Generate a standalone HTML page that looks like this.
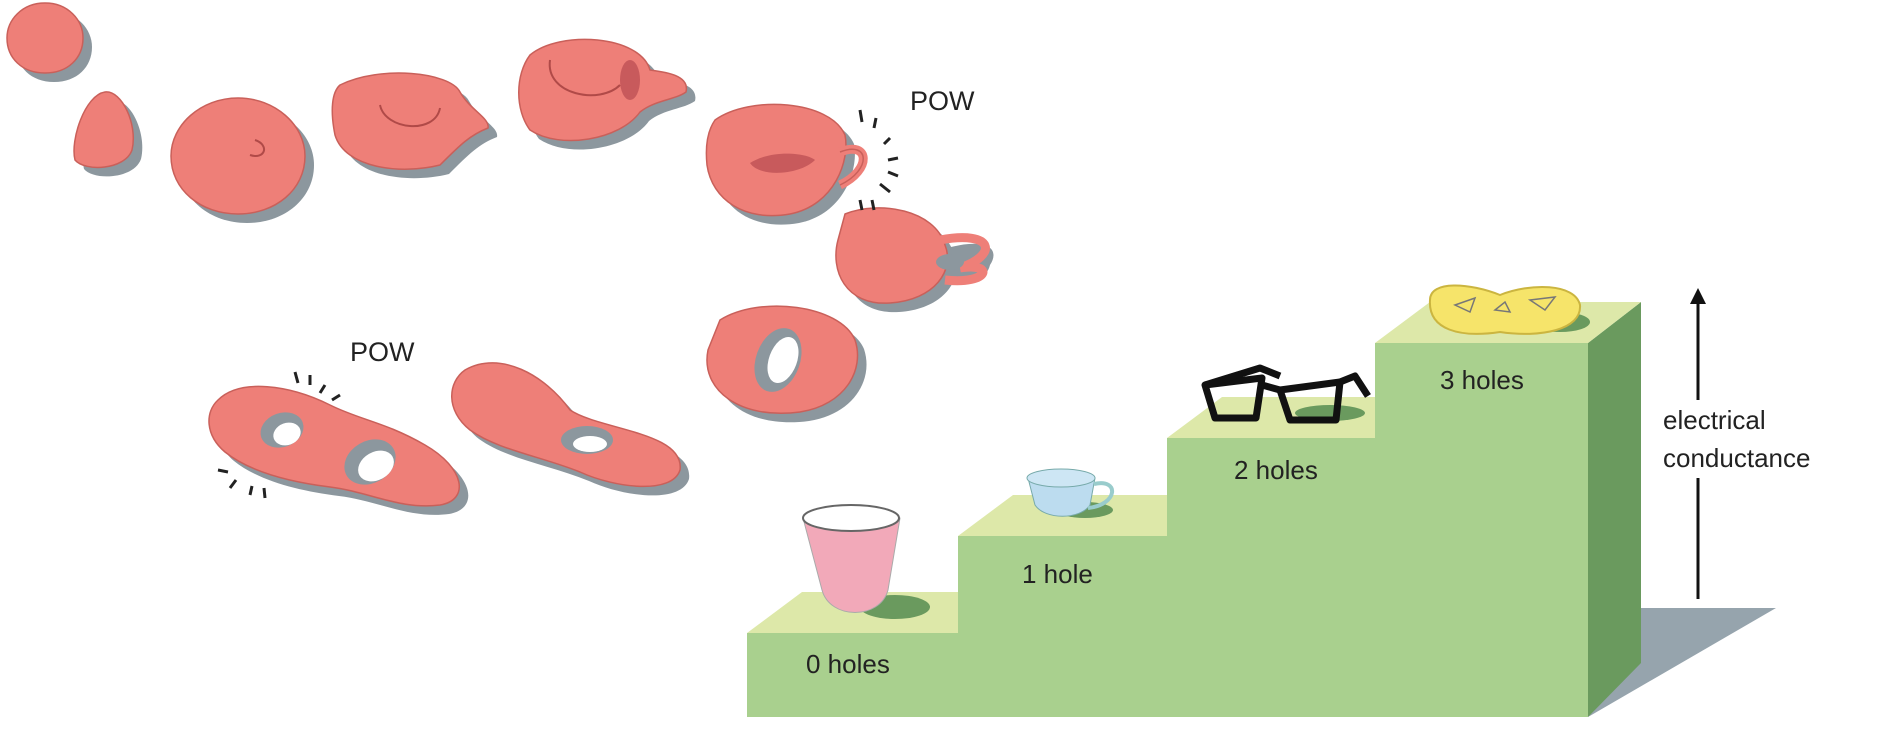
<!DOCTYPE html>
<html><head><meta charset="utf-8"><style>
html,body{margin:0;padding:0;background:#fff;}
svg{display:block}
text{font-family:"Liberation Sans",sans-serif;fill:#222;}
</style></head><body>
<svg width="1890" height="746" viewBox="0 0 1890 746" xmlns="http://www.w3.org/2000/svg">
<defs>
<path id="b1" d="M45 3 C68 3 83 20 83 38 C83 58 68 73 45 73 C22 73 7 58 7 38 C7 20 22 3 45 3Z"/>
<path id="b2" d="M105 92 C85 95 70 140 75 160 C85 172 125 170 132 150 C138 125 122 90 105 92Z"/>
<path id="b3" d="M238 98 C275 98 305 125 305 156 C305 190 275 214 238 214 C201 214 171 190 171 156 C171 125 201 98 238 98Z"/>
<path id="b4" d="M340 85 C380 65 450 72 460 92 C470 110 490 118 488 128 C470 135 460 145 440 165 C400 175 345 168 335 135 C330 110 332 92 340 85Z"/>
<path id="b5" d="M530 55 C560 30 640 35 650 70 C665 72 690 75 686 92 C675 100 655 100 640 112 C620 140 560 150 530 130 C515 110 515 75 530 55Z"/>
<path id="b6" d="M715 120 C750 95 830 100 845 135 C850 160 835 205 790 214 C745 222 712 200 707 165 C705 145 708 130 715 120Z"/>
<path id="b7" d="M845 214 C880 200 935 210 945 245 C955 270 935 300 890 303 C845 306 830 270 838 240Z"/>
<path id="b8" d="M720 320 C760 295 840 305 855 340 C865 370 845 405 800 412 C740 420 700 390 708 350 Z"/>
<path id="b9" d="M218 400 C240 378 290 385 330 405 C360 420 385 422 425 445 C465 468 470 500 440 505 C400 510 370 492 330 487 C290 482 250 472 225 452 C205 435 205 412 218 400Z"/>
<path id="b10" d="M465 370 C500 350 545 375 570 410 C600 430 685 432 680 470 C672 495 615 488 580 472 C540 456 498 450 470 430 C445 410 448 382 465 370Z"/>
</defs>
<g fill="#8c979e" transform="translate(9,9)">
<use href="#b1"/><use href="#b2"/><use href="#b3"/><use href="#b4"/><use href="#b5"/><use href="#b6"/><use href="#b7"/><use href="#b8"/><use href="#b9"/><use href="#b10"/>
</g>
<g fill="#8c979e">
<path d="M940 250 C990 235 1000 250 990 265 C985 285 960 285 945 282Z"/>
</g>
<g fill="#ee7f78" stroke="#c9605a" stroke-width="1.5">
<use href="#b1"/><use href="#b2"/><use href="#b3"/><use href="#b4"/><use href="#b5"/><use href="#b6"/><use href="#b7"/><use href="#b8"/><use href="#b9"/><use href="#b10"/>
</g>
<!-- handles -->
<path d="M840 152 C870 140 872 170 840 185" stroke="#ee7f78" stroke-width="9" fill="none"/>
<path d="M840 152 C870 140 872 170 840 185" stroke="#c9605a" stroke-width="1.5" fill="none" transform="translate(0,0)"/>
<path d="M940 240 C995 230 998 255 960 268 M945 280 C990 285 995 262 960 268" stroke="#ee7f78" stroke-width="9" fill="none"/>
<ellipse cx="950" cy="262" rx="14" ry="8" fill="#8c979e"/>
<g fill="#8c979e">
<ellipse cx="778" cy="360" rx="22" ry="33" transform="rotate(20 778 360)"/>
<ellipse cx="282" cy="430" rx="22" ry="17" transform="rotate(-20 282 430)"/>
<ellipse cx="370" cy="462" rx="27" ry="21" transform="rotate(-30 370 462)"/>
<ellipse cx="587" cy="440" rx="26" ry="14"/>
</g>
<g fill="#fff">
<ellipse cx="783" cy="360" rx="14" ry="24" transform="rotate(20 783 360)"/>
<ellipse cx="287" cy="434" rx="14" ry="11" transform="rotate(-20 287 434)"/>
<ellipse cx="376" cy="466" rx="19" ry="14" transform="rotate(-30 376 466)"/>
<ellipse cx="590" cy="444" rx="17" ry="8"/>
</g>
<g fill="#c85a5c"><ellipse cx="630" cy="80" rx="10" ry="20"/><path d="M750 163 C770 150 805 152 815 160 C800 175 760 178 750 163Z"/></g>
<g stroke="#b04a48" stroke-width="2" fill="none">
<path d="M255 140 C270 145 265 160 250 155"/>
<path d="M380 105 C385 130 435 135 440 108"/>
<path d="M550 60 C545 95 600 105 620 85"/>
</g>
<g stroke="#222" stroke-width="3">
<path d="M860 110 L862 122 M876 118 L874 128 M890 138 L884 144 M898 158 L888 160 M898 176 L888 172 M890 192 L880 184 M860 200 L862 210 M872 200 L874 210"/>
<path d="M295 372 L298 383 M310 375 L310 385 M325 385 L320 393 M340 395 L332 400 M218 470 L228 472 M230 488 L236 480 M250 495 L252 486 M265 498 L264 488"/>
</g>
<text x="910" y="110" font-size="27">POW</text>
<text x="350" y="361" font-size="27">POW</text>
<!-- stairs -->
<polygon points="1641,608 1776,608 1588,717" fill="#96a4ad"/>
<polygon points="1588,343 1641,302 1641,663 1588,717" fill="#6a9a5e"/>
<polygon points="747,633 802,592 958,592 958,633" fill="#dde8a9"/>
<polygon points="958,536 1013,495 1167,495 1167,536" fill="#dde8a9"/>
<polygon points="1167,438 1222,397 1375,397 1375,438" fill="#dde8a9"/>
<polygon points="1375,343 1430,302 1641,302 1588,343" fill="#dde8a9"/>
<polygon points="747,633 958,633 958,536 1167,536 1167,438 1375,438 1375,343 1588,343 1588,717 747,717" fill="#a9d08e"/>
<g fill="#6a9a5e"><ellipse cx="895" cy="607" rx="35" ry="12"/><ellipse cx="1085" cy="510" rx="28" ry="8"/><ellipse cx="1330" cy="413" rx="35" ry="8"/><ellipse cx="1560" cy="322" rx="30" ry="10"/></g>
<path d="M803 518 C820 505 890 505 900 518 L888 590 C880 620 830 620 822 590Z" fill="#f2a9b9" stroke="#aaa" stroke-width="1"/>
<ellipse cx="851" cy="518" rx="48" ry="13" fill="#fff" stroke="#666" stroke-width="2"/>
<path d="M1028 478 L1035 505 C1045 520 1080 520 1090 505 L1095 478Z" fill="#bcdcef" stroke="#7aa" stroke-width="1"/>
<ellipse cx="1061" cy="478" rx="34" ry="9" fill="#cde6f4" stroke="#7aa"/>
<path d="M1094 484 C1120 478 1118 505 1088 508" stroke="#9cc" stroke-width="4" fill="none"/>
<g stroke="#111" stroke-width="7" fill="none" stroke-linejoin="round">
<path d="M1205 385 L1262 378 L1256 418 L1215 418Z"/>
<path d="M1280 390 L1340 382 L1336 420 L1290 420Z"/>
<path d="M1262 385 L1280 390 M1205 385 L1260 368 L1280 376 M1340 382 L1355 376 L1368 396"/>
</g>
<path d="M1430 300 C1430 280 1470 283 1500 295 C1530 283 1575 283 1580 305 C1582 330 1540 338 1500 332 C1460 338 1428 330 1430 300Z" fill="#f6e46a" stroke="#cbb540" stroke-width="2"/>
<g stroke="#777" stroke-width="1.5" fill="none"><path d="M1455 305 L1475 298 L1470 312Z M1495 310 L1505 302 L1510 312Z M1530 300 L1555 297 L1545 310Z"/></g>
<text x="806" y="673" font-size="26">0 holes</text>
<text x="1022" y="583" font-size="26">1 hole</text>
<text x="1234" y="479" font-size="26">2 holes</text>
<text x="1440" y="389" font-size="26">3 holes</text>
<text x="1663" y="429" font-size="26">electrical</text>
<text x="1663" y="467" font-size="26">conductance</text>
<line x1="1698" y1="300" x2="1698" y2="400" stroke="#111" stroke-width="3"/>
<line x1="1698" y1="478" x2="1698" y2="599" stroke="#111" stroke-width="3"/>
<polygon points="1698,288 1690,304 1706,304" fill="#111"/>
</svg>
</body></html>
